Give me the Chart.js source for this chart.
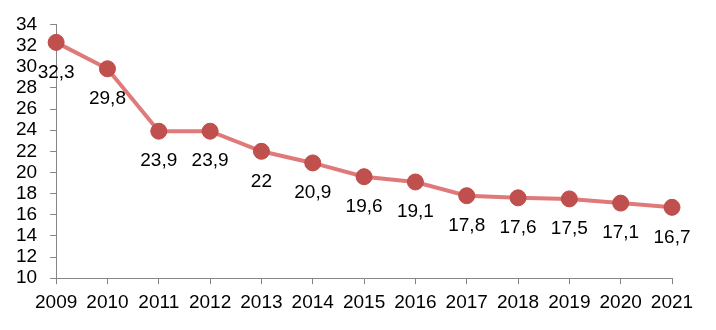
<!DOCTYPE html>
<html>
<head>
<meta charset="utf-8">
<script src="https://cdn.jsdelivr.net/npm/chart.js@4"></script>
<style>
  html, body { margin: 0; padding: 0; background: #fff; }
  #wrap { width: 716px; height: 330px; }
</style>
</head>
<body>
<div id="wrap"><canvas id="lineChart"></canvas></div>
<script>
// DATA
let years = ["2009", "2010", "2011", "2012", "2013", "2014", "2015", "2016", "2017", "2018", "2019", "2020", "2021"];
let values = [32.3, 29.8, 23.9, 23.9, 22, 20.9, 19.6, 19.1, 17.8, 17.6, 17.5, 17.1, 16.7];
let yMin = 10, yMax = 34, yStep = 2;

let fontFamily = "'Liberation Sans', Arial, sans-serif";

// value labels under each point
let valueLabels = {
    id: "valueLabels",
    afterDatasetsDraw(chart) {
        let ctx = chart.ctx;
        let meta = chart.getDatasetMeta(0);
        ctx.save();
        ctx.font = "19px " + fontFamily;
        ctx.fillStyle = "#000";
        ctx.textAlign = "center";
        ctx.textBaseline = "middle";
        meta.data.forEach((pt, i) => {
            let txt = String(values[i]).replace(".", ",");
            ctx.fillText(txt, pt.x, pt.y + 30);
        });
        ctx.restore();
    }
};

let ctx1 = document.getElementById("lineChart");

new Chart(ctx1, {
    type: "line",
    data: {
        labels: years,
        datasets: [{
            data: values,
            borderColor: "#E07A7A",
            borderWidth: 4,
            backgroundColor: "#C0504D",
            pointBackgroundColor: "#C0504D",
            pointBorderColor: "#BE4B48",
            pointBorderWidth: 1,
            pointRadius: 8,
            tension: 0,
            clip: false
        }]
    },
    options: {
        responsive: true,
        maintainAspectRatio: false,
        animation: false,
        layout: { padding: { left: 3, right: 44, top: 16, bottom: 9 } },
        plugins: {
            legend: { display: false },
            tooltip: { enabled: false }
        },
        scales: {
            x: {
                offset: false,
                grid: { display: true, drawOnChartArea: false, tickLength: 6, color: "#868686" },
                border: { color: "#868686", width: 1 },
                ticks: { color: "#000", font: { family: fontFamily, size: 19 }, padding: 7, maxRotation: 0, autoSkip: false }
            },
            y: {
                min: yMin,
                max: yMax,
                grid: { display: true, drawOnChartArea: false, tickLength: 6, color: "#868686" },
                border: { color: "#868686", width: 1 },
                ticks: { stepSize: yStep, autoSkip: false, color: "#000", font: { family: fontFamily, size: 19 }, padding: 13 }
            }
        }
    },
    plugins: [valueLabels]
});
</script>
</body>
</html>
